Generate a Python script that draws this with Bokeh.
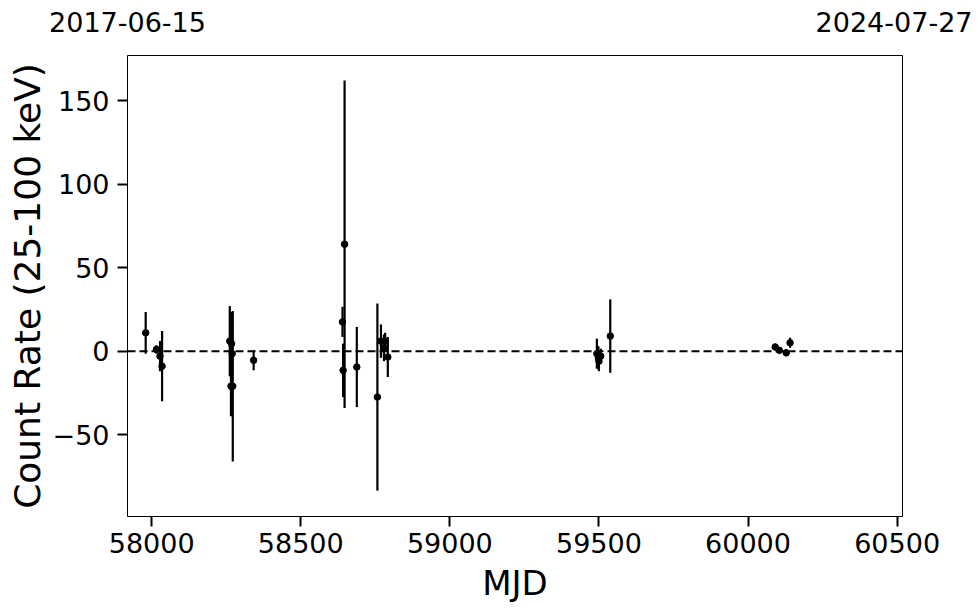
from bokeh.plotting import figure
from bokeh.models import ColumnDataSource, Span, LinearAxis, FixedTicker, Range1d
from bokeh.embed import file_html
from bokeh.resources import INLINE

# Data (MJD, count rate 25-100 keV, 1-sigma error)
mjd = [57980, 58016, 58028, 58035, 58262, 58266, 58268, 58270, 58272, 58342,
       58640, 58642, 58647, 58688, 58757, 58769, 58779, 58783, 58792,
       59493, 59498, 59500, 59506, 59538, 60091, 60105, 60128, 60141]
rate = [11, 1, -3, -9, 6, -21, 4.5, -1.5, -21, -5.5,
        17.5, -11.5, 64, -9.5, -27.5, 6, 2, 6, -3.5,
        -1.5, -4, -6, -3, 9, 2.5, 0.5, -1, 5]
err = [12.5, 2.5, 9, 21, 21, 18, 19, 12, 45, 6,
       9, 16, 98, 24, 56, 10, 8, 5, 12,
       9, 7, 6, 4.5, 22, 2, 1.5, 2, 3]

x_ticks = [58000, 58500, 59000, 59500, 60000, 60500]
y_ticks = [-50, 0, 50, 100, 150]
date_ticks = [57919, 60518]
date_labels = ["2017-06-15", "2024-07-27"]

FONT = "DejaVu Sans"

src = ColumnDataSource(dict(
    x=mjd, y=rate,
    lo=[r - e for r, e in zip(rate, err)],
    hi=[r + e for r, e in zip(rate, err)],
))

p = figure(width=972, height=605, output_backend="svg", toolbar_location=None,
           x_range=Range1d(date_ticks[0], date_ticks[1]), y_range=Range1d(-99, 177),
           min_border_left=127, min_border_right=70, min_border_top=55, min_border_bottom=88,
           x_axis_label="MJD", y_axis_label="Count Rate (25-100 keV)")

p.background_fill_color = "white"
p.border_fill_color = "white"
p.outline_line_color = "black"
p.outline_line_width = 1
p.xgrid.visible = False
p.ygrid.visible = False

zero = Span(location=0, dimension="width", line_color="black", line_width=2, line_dash="8 4")
p.add_layout(zero)

p.segment(x0="x", y0="lo", x1="x", y1="hi", source=src, line_color="black", line_width=2.2)
p.scatter(x="x", y="y", source=src, size=6.5, color="black")

for ax in (p.xaxis[0], p.yaxis[0]):
    ax.axis_line_color = None
    ax.major_tick_line_color = "black"
    ax.major_tick_line_width = 2
    ax.major_tick_out = 10
    ax.major_tick_in = 0
    ax.minor_tick_line_color = None
    ax.major_label_text_font = FONT
    ax.major_label_text_font_size = "27px"
    ax.major_label_text_color = "black"
    ax.axis_label_text_font = FONT
    ax.axis_label_text_font_style = "normal"
    ax.axis_label_text_color = "black"

p.xaxis[0].axis_label_text_font_size = "34px"
p.yaxis[0].axis_label_text_font_size = "36px"
p.xaxis[0].ticker = FixedTicker(ticks=x_ticks)
p.yaxis[0].ticker = FixedTicker(ticks=y_ticks)
p.yaxis[0].major_label_overrides = {v: ("\u2212" + str(-v) if v < 0 else str(v)) for v in y_ticks}
p.xaxis[0].major_label_standoff = 6
p.xaxis[0].axis_label_standoff = 7
p.yaxis[0].major_label_standoff = 8
p.yaxis[0].axis_label_standoff = 2

top = LinearAxis(ticker=FixedTicker(ticks=date_ticks),
                 major_label_overrides={t: l for t, l in zip(date_ticks, date_labels)})
top.axis_line_color = None
top.major_tick_line_color = None
top.minor_tick_line_color = None
top.major_label_text_font = FONT
top.major_label_text_font_size = "27px"
top.major_label_text_color = "black"
top.major_label_standoff = 18
p.add_layout(top, "above")

open("out.html", "w").write(file_html(p, INLINE))
